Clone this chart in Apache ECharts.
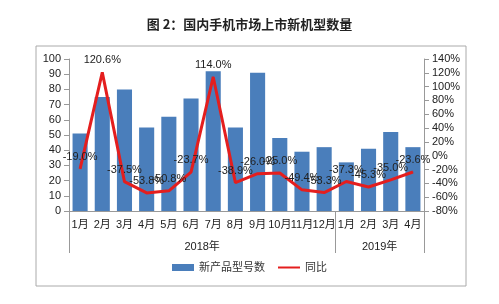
<!DOCTYPE html>
<html>
<head>
<meta charset="utf-8">
<script src="https://cdn.jsdelivr.net/npm/echarts@6/dist/echarts.min.js"></script>
<style>
html, body { margin: 0; padding: 0; background: #fff; }
#main { width: 499px; height: 304px; }
</style>
</head>
<body>
<div id="main"></div>
<script>
var months = ['1月', '2月', '3月', '4月', '5月', '6月', '7月', '8月', '9月', '10月', '11月', '12月', '1月', '2月', '3月', '4月'];
var years = ['2018年', '2019年'];
var yearBounds = [0, 12, 16]; // 年份分隔位置（按月份计）
var newModels = [51, 75, 80, 55, 62, 74, 92, 55, 91, 48, 39, 42, 32, 41, 52, 42];
var yoy = [-19.0, 120.6, -37.5, -53.8, -50.8, -23.7, 114.0, -38.9, -26.0, -25.0, -49.4, -53.3, -37.3, -45.3, -35.0, -23.6];

var font = "'Liberation Sans', 'Noto Sans CJK SC', sans-serif";
var chart = echarts.init(document.getElementById('main'));
var option = {
    textStyle : { fontFamily : font },
    title : {
        text : '图 2：国内手机市场上市新机型数量',
        left : 'center',
        top : 13,
        textStyle : { fontSize : 13, fontWeight : 'bold', color : '#222', fontFamily : "'Noto Sans CJK SC', sans-serif" }
    },
    graphic : [ {
        type : 'rect',
        shape : { x : 36, y : 46, width : 430, height : 240 },
        style : { fill : 'none', stroke : '#aaa', lineWidth : 1 },
        silent : true
    } ],
    legend : {
        bottom : 26,
        left : 'center',
        itemWidth : 22,
        itemHeight : 7,
        itemGap : 12,
        textStyle : { fontSize : 11, color : '#333' },
        data : [ { name : '新产品型号数', icon : 'rect' }, { name : '同比', itemStyle : { opacity : 0 } } ]
    },
    grid : { left : 69, right : 75, top : 59, bottom : 93 },
    xAxis : [ {
        type : 'category',
        data : months,
        axisLine : { onZero : false, lineStyle : { color : '#999' } },
        axisTick : { length : 22, lineStyle : { color : '#999' } },
        axisLabel : { color : '#222', fontSize : 11, margin : 8, interval : 0 }
    }, {
        // 年份文字和分隔线
        type : 'value',
        min : 0,
        max : months.length,
        position : 'bottom',
        axisLine : { show : false, onZero : false },
        splitLine : { show : false },
        axisTick : { show : true, customValues : yearBounds, length : 42, lineStyle : { color : '#999' } },
        axisLabel : {
            customValues : [6, 14],
            margin : 30,
            color : '#222',
            fontSize : 11,
            formatter : function(v) { return v === 6 ? years[0] : years[1]; }
        }
    } ],
    yAxis : [ {
        type : 'value',
        min : 0,
        max : 100,
        interval : 10,
        axisLine : { show : true, lineStyle : { color : '#999' } },
        axisTick : { show : true, lineStyle : { color : '#999' } },
        splitLine : { show : false },
        axisLabel : { color : '#222', fontSize : 11 }
    }, {
        type : 'value',
        min : -80,
        max : 140,
        interval : 20,
        axisLine : { show : true, lineStyle : { color : '#999' } },
        axisTick : { show : true, lineStyle : { color : '#999' } },
        splitLine : { show : false },
        axisLabel : { color : '#222', fontSize : 11, formatter : '{value}%' }
    } ],
    series : [ {
        name : '新产品型号数',
        type : 'bar',
        barCategoryGap : '32%',
        itemStyle : { color : '#4a7ebb' },
        data : newModels
    }, {
        name : '同比',
        type : 'line',
        yAxisIndex : 1,
        symbol : 'circle',
        symbolSize : 1,
        lineStyle : { color : '#e41e1e', width : 3 },
        itemStyle : { color : '#e41e1e' },
        label : {
            show : true,
            position : 'top',
            distance : 6,
            color : '#222',
            fontSize : 11,
            formatter : function(p) { return p.value.toFixed(1) + '%'; }
        },
        data : yoy
    } ]
};
chart.setOption(option);
</script>
</body>
</html>
